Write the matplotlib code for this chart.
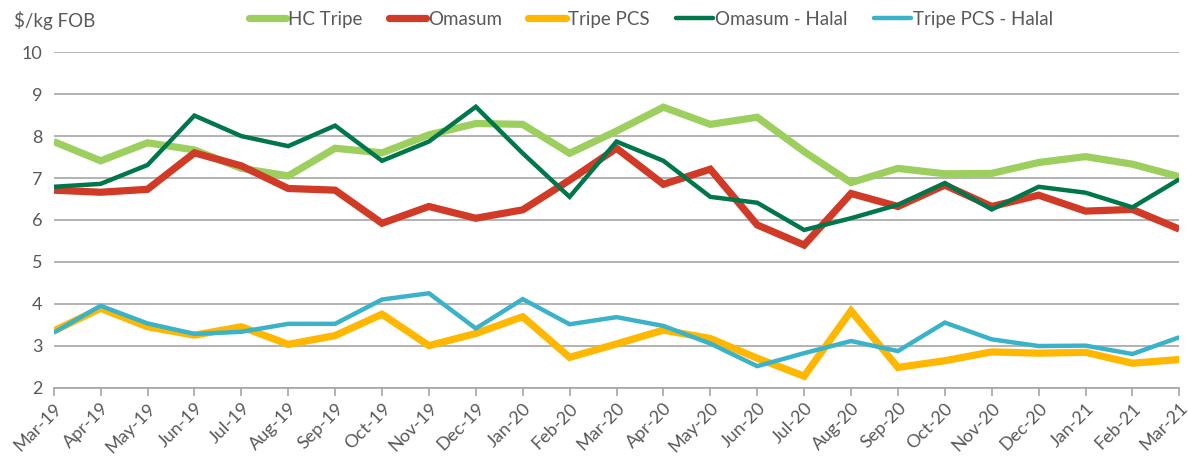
import matplotlib
matplotlib.use("Agg")
import matplotlib.pyplot as plt

plt.rcParams['font.family'] = ['Lato', 'DejaVu Sans']

months = ['Mar-19', 'Apr-19', 'May-19', 'Jun-19', 'Jul-19', 'Aug-19', 'Sep-19',
          'Oct-19', 'Nov-19', 'Dec-19', 'Jan-20', 'Feb-20', 'Mar-20', 'Apr-20',
          'May-20', 'Jun-20', 'Jul-20', 'Aug-20', 'Sep-20', 'Oct-20', 'Nov-20',
          'Dec-20', 'Jan-21', 'Feb-21', 'Mar-21']

hc_tripe = [7.87, 7.41, 7.84, 7.67, 7.23, 7.05, 7.71, 7.60, 8.03, 8.30, 8.28, 7.59,
            8.12, 8.69, 8.28, 8.45, 7.63, 6.89, 7.23, 7.10, 7.11, 7.37, 7.51, 7.33, 7.03]
omasum = [6.71, 6.66, 6.73, 7.60, 7.29, 6.75, 6.71, 5.92, 6.32, 6.04, 6.24, 6.95,
          7.71, 6.85, 7.21, 5.88, 5.40, 6.63, 6.32, 6.83, 6.32, 6.59, 6.21, 6.25, 5.78]
tripe_pcs = [3.35, 3.89, 3.45, 3.25, 3.45, 3.03, 3.24, 3.75, 3.00, 3.29, 3.69, 2.72,
             3.04, 3.37, 3.17, 2.70, 2.27, 3.83, 2.48, 2.64, 2.85, 2.82, 2.84, 2.58, 2.67]
omasum_halal = [6.79, 6.86, 7.31, 8.49, 8.00, 7.76, 8.25, 7.41, 7.87, 8.70, 7.59, 6.55,
                7.87, 7.41, 6.55, 6.41, 5.76, 6.04, 6.36, 6.88, 6.25, 6.79, 6.65, 6.30, 6.97]
tripe_pcs_halal = [3.31, 3.95, 3.53, 3.28, 3.33, 3.52, 3.52, 4.10, 4.25, 3.41, 4.11, 3.51,
                   3.68, 3.47, 3.05, 2.51, 2.82, 3.11, 2.87, 3.55, 3.15, 2.99, 3.00, 2.80, 3.20]

series = [
    ('HC Tripe', hc_tripe, '#9DCF5F', 5.2),
    ('Omasum', omasum, '#D13A26', 5.2),
    ('Tripe PCS', tripe_pcs, '#FFB700', 5.2),
    ('Omasum - Halal', omasum_halal, '#00774A', 3.2),
    ('Tripe PCS - Halal', tripe_pcs_halal, '#3AB2CA', 3.2),
]

fig = plt.figure(figsize=(11.88, 4.57), dpi=100)
ax = fig.add_axes([0.0452, 0.152, 0.9475, 0.7336])

x = range(len(months))
for name, vals, col, lw in series:
    ax.plot(x, vals, color=col, lw=lw, label=name, solid_joinstyle='miter',
            solid_capstyle='butt')

ax.set_xlim(0, len(months) - 1)
ax.set_ylim(2, 10)
ax.set_yticks(range(2, 11))
ax.set_xticks(list(x))
ax.set_xticklabels(months, rotation=45, ha='right', rotation_mode='anchor')
ax.grid(axis='y', color='#A6A6A6', lw=1.2)
ax.set_axisbelow(True)
for s in ['top', 'right', 'left']:
    ax.spines[s].set_visible(False)
ax.spines['bottom'].set_color('#A6A6A6')
ax.spines['bottom'].set_linewidth(1.2)
ax.tick_params(axis='y', length=0, pad=8, labelsize=13, labelcolor='#595959')
ax.tick_params(axis='x', length=6, color='#A6A6A6', width=1.2, pad=3,
               labelsize=13, labelcolor='#595959')

fig.text(0.012, 0.955, r'\$/kg FOB', fontsize=13.5, color='#595959', va='center')

leg = fig.legend(loc='center', bbox_to_anchor=(0.548, 0.958), ncol=5, frameon=False,
                 fontsize=13.5, handlelength=2.0, handletextpad=0.1, columnspacing=1.4)
for t in leg.get_texts():
    t.set_color('#595959')
for h in leg.get_lines():
    h.set_solid_capstyle('round')

fig.savefig('out.png', dpi=100)
